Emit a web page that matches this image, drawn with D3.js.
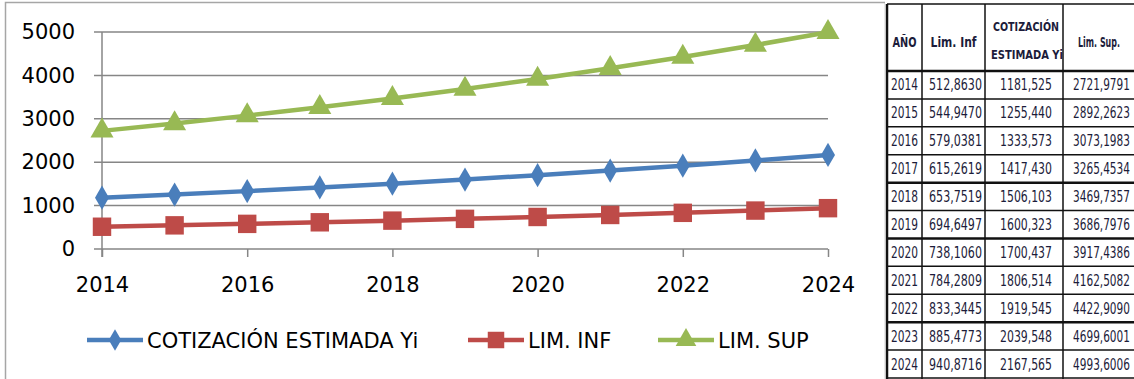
<!DOCTYPE html>
<html>
<head>
<meta charset="utf-8">
<script src="https://cdn.jsdelivr.net/npm/d3@7"></script>
<style>
  body { margin: 0; background: #fff; }
  svg { display: block; }
</style>
</head>
<body>
<script>
var years = [2014, 2015, 2016, 2017, 2018, 2019, 2020, 2021, 2022, 2023, 2024];
var limInf = [512.8630, 544.9470, 579.0381, 615.2619, 653.7519, 694.6497, 738.1060, 784.2809, 833.3445, 885.4773, 940.8716];
var cotizacion = [1181.525, 1255.440, 1333.573, 1417.430, 1506.103, 1600.323, 1700.437, 1806.514, 1919.545, 2039.548, 2167.565];
var limSup = [2721.9791, 2892.2623, 3073.1983, 3265.4534, 3469.7357, 3686.7976, 3917.4386, 4162.5082, 4422.9090, 4699.6001, 4993.6006];
var yTicks = [0, 1000, 2000, 3000, 4000, 5000];
var xTicks = [2014, 2016, 2018, 2020, 2022, 2024];
var seriesNames = ["COTIZACIÓN ESTIMADA Yi", "LIM. INF", "LIM. SUP"];
var headers = ["AÑO", "Lim. Inf", "COTIZACIÓN", "ESTIMADA Yi", "Lim. Sup."];

//Width and height
var W = 1134, H = 379;
var font = "'DejaVu Sans', sans-serif";

var svg = d3.select("body")
    .append("svg")
    .attr("width", W)
    .attr("height", H);

// chart frame
svg.append("rect")
    .attr("x", 5.5).attr("y", 2.5)
    .attr("width", 880).attr("height", 420)
    .style("fill", "none")
    .style("stroke", "#a6a6a6")
    .style("stroke-width", 1.5);

var x = d3.scaleLinear().domain([2014, 2024]).range([102, 828]);
var y = d3.scaleLinear().domain([0, 5000]).range([249, 32]);

// gridlines
svg.append("g").selectAll("line")
    .data(yTicks)
    .enter().append("line")
    .attr("x1", 94).attr("x2", 828)
    .attr("y1", function (d) { return y(d); })
    .attr("y2", function (d) { return y(d); })
    .style("stroke", "#868686")
    .style("stroke-width", 1.5);

// y axis
var yAxis = svg.append("g")
    .attr("transform", "translate(102,0)")
    .call(d3.axisLeft(y).tickValues(yTicks).tickSize(0).tickPadding(27).tickFormat(d3.format("d")));
yAxis.select(".domain").attr("d", "M0,32V257").style("stroke", "#868686").style("stroke-width", 1.5);
yAxis.selectAll("text").style("font-family", font).style("font-size", "21px").style("fill", "#000");

// x axis
var xAxis = svg.append("g")
    .attr("transform", "translate(0,249)")
    .call(d3.axisBottom(x).tickValues(xTicks).tickSize(8).tickPadding(20).tickFormat(d3.format("d")));
xAxis.select(".domain").remove();
xAxis.selectAll("line").style("stroke", "#868686").style("stroke-width", 1.5);
xAxis.selectAll("text").style("font-family", font).style("font-size", "21px").style("fill", "#000");

var series = [
    { name: seriesNames[0], values: cotizacion, color: "#4a7ebb", shape: d3.symbolDiamond, size: 170 },
    { name: seriesNames[1], values: limInf, color: "#be4b48", shape: d3.symbolSquare, size: 340 },
    { name: seriesNames[2], values: limSup, color: "#98b954", shape: d3.symbolTriangle, size: 230 }
];

var line = d3.line()
    .x(function (d, i) { return x(years[i]); })
    .y(function (d) { return y(d); });

var sg = svg.selectAll(".serie")
    .data(series)
    .enter().append("g")
    .classed("serie", true);

sg.append("path")
    .attr("d", function (d) { return line(d.values); })
    .style("fill", "none")
    .style("stroke", function (d) { return d.color; })
    .style("stroke-width", 4.5);

sg.selectAll(".pt")
    .data(function (s) { return s.values.map(function (v, i) { return { v: v, i: i, s: s }; }); })
    .enter().append("path")
    .classed("pt", true)
    .attr("transform", function (d) { return "translate(" + x(years[d.i]) + "," + y(d.v) + ")"; })
    .attr("d", function (d) { return d3.symbol().type(d.s.shape).size(d.s.size)(); })
    .style("fill", function (d) { return d.s.color; });

// legend
var legX = [87, 468, 658];
var lg = svg.selectAll(".leg")
    .data(series)
    .enter().append("g")
    .classed("leg", true)
    .attr("transform", function (d, i) { return "translate(" + legX[i] + ",340)"; });

lg.append("line")
    .attr("x1", 0).attr("x2", 56)
    .style("stroke", function (d) { return d.color; })
    .style("stroke-width", 4.5);
lg.append("path")
    .attr("transform", "translate(28,0)")
    .attr("d", function (d) { return d3.symbol().type(d.shape).size(d.size * 0.8)(); })
    .style("fill", function (d) { return d.color; });
lg.append("text")
    .attr("x", 60).attr("y", 7.5)
    .text(function (d) { return d.name; })
    .style("font-family", font)
    .style("font-size", "21px")
    .style("fill", "#000");

// table on the right
var tfont = "'Liberation Sans Narrow', 'DejaVu Sans Condensed', 'Arial Narrow', sans-serif";
var colX = [887, 922, 985, 1063, 1140];
var colW = [27, 53, 52, 57];   // printed width of the cell texts
var rowY = d3.scaleBand().domain(years).range([71, 378]);
var tbl = svg.append("g");

// squeeze a text horizontally so it prints at width w around centre cx
function fit(sel, cx, cy, w) {
    sel.each(function (d, i) {
        var t = d3.select(this);
        var n = this.getComputedTextLength();
        var c = typeof cx == "function" ? cx(d, i) : cx;
        var ww = typeof w == "function" ? w(d, i) : w;
        t.attr("transform", "translate(" + c + "," + cy + ") scale(" + (ww / n) + ",1)");
    });
}

tbl.append("rect")
    .attr("x", 885).attr("y", 0).attr("width", 260).attr("height", H)
    .style("fill", "#fff");

// vertical lines
tbl.selectAll(".vl")
    .data(colX)
    .enter().append("line")
    .attr("x1", function (d) { return d; }).attr("x2", function (d) { return d; })
    .attr("y1", 4).attr("y2", H)
    .style("stroke", "#111")
    .style("stroke-width", function (d, i) { return i == 0 ? 2.5 : 1.5; });

// horizontal lines
var thick = [2018, 2020, 2023];
tbl.selectAll(".hl")
    .data([0].concat(years))
    .enter().append("line")
    .attr("x1", 887).attr("x2", 1140)
    .attr("y1", function (d) { return d == 0 ? 71 : rowY(d); })
    .attr("y2", function (d) { return d == 0 ? 71 : rowY(d); })
    .style("stroke", "#111")
    .style("stroke-width", function (d) { return (d == 0 || thick.indexOf(d) >= 0) ? 2.5 : 1.5; });
tbl.append("line")
    .attr("x1", 887).attr("x2", 1140).attr("y1", 4).attr("y2", 4)
    .style("stroke", "#111").style("stroke-width", 1.5);
tbl.append("line")
    .attr("x1", 887).attr("x2", 1140).attr("y1", 378).attr("y2", 378)
    .style("stroke", "#111").style("stroke-width", 1.5);

// header
var hdrX = [904.5, 953.5, 1026, 1027, 1099];
var hdrY = [47, 47, 31, 59, 47];
var hdrW = [24, 46, 66, 72, 42];
tbl.selectAll(".hd")
    .data(headers)
    .enter().append("text")
    .attr("text-anchor", "middle")
    .text(function (d) { return d; })
    .style("font-family", tfont)
    .style("font-weight", "bold")
    .style("font-size", function (d, i) { return (i == 2 || i == 3) ? "12px" : "14px"; })
    .style("fill", "#1c1c3a")
    .each(function (d, i) {
        fit(d3.select(this), hdrX[i], hdrY[i], hdrW[i]);
    });

// body rows
var comma = d3.formatLocale({ decimal: ",", thousands: "", grouping: [3], currency: ["", ""] });
var f4 = comma.format(".4f"), f3 = comma.format(".3f");
var rows = tbl.selectAll(".row")
    .data(years)
    .enter().append("g")
    .attr("transform", function (d) { return "translate(0," + (rowY(d) + rowY.bandwidth() / 2 + 5.5) + ")"; });

rows.selectAll("text")
    .data(function (d, i) { return [String(d), f4(limInf[i]), f3(cotizacion[i]), f4(limSup[i])]; })
    .enter().append("text")
    .attr("text-anchor", "middle")
    .text(function (d) { return d; })
    .style("font-family", tfont)
    .style("font-size", "15px")
    .style("fill", "#1c1c3a")
    .call(fit, function (d, i) { return (colX[i] + colX[i + 1]) / 2 + (i == 0 ? 0 : 2) - (i == 3 ? 2 : 0); }, 0,
          function (d, i) { return colW[i]; });
</script>
</body>
</html>
